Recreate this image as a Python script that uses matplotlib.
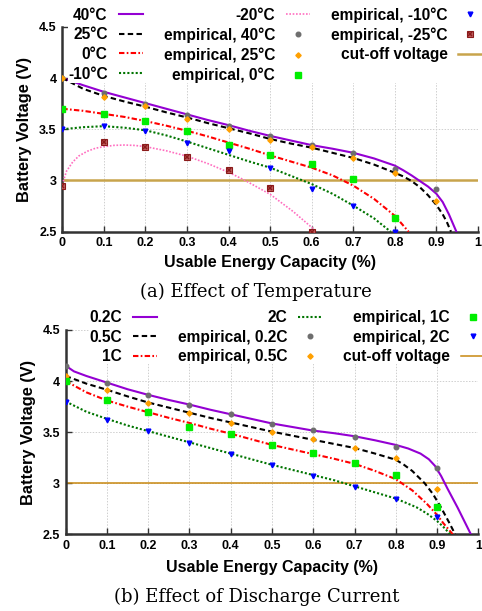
import matplotlib
matplotlib.use("Agg")
import matplotlib.pyplot as plt
from matplotlib.legend_handler import HandlerTuple

plt.rcParams["font.family"] = ["Liberation Sans", "DejaVu Sans"]
plt.rcParams["font.weight"] = "bold"

FIG_W, FIG_H = 482, 611

# ---- shared axes data ----
CAP_TICKS = [0, 0.1, 0.2, 0.3, 0.4, 0.5, 0.6, 0.7, 0.8, 0.9, 1.0]
CAP_LABELS = ["0", "0.1", "0.2", "0.3", "0.4", "0.5", "0.6", "0.7", "0.8", "0.9", "1"]
VOLT_TICKS = [2.5, 3.0, 3.5, 4.0, 4.5]
VOLT_LABELS = ["2.5", "3", "3.5", "4", "4.5"]
CUTOFF = 3.0
EMP_X = [0.0, 0.1, 0.2, 0.3, 0.4, 0.5, 0.6, 0.7, 0.8, 0.9]

# ---- (a) temperature: model curves ----
T40_X = [0, 0.05, 0.1, 0.15, 0.2, 0.25, 0.3, 0.35, 0.4, 0.45, 0.5, 0.55, 0.6, 0.65,
         0.7, 0.75, 0.8, 0.82, 0.84, 0.86, 0.88, 0.9, 0.915, 0.93, 0.948]
T40_V = [4.00, 3.93, 3.865, 3.81, 3.755, 3.70, 3.645, 3.59, 3.54, 3.485, 3.435, 3.39,
         3.345, 3.31, 3.27, 3.215, 3.145, 3.10, 3.05, 2.995, 2.94, 2.87, 2.79, 2.67, 2.50]
T25_X = [0, 0.05, 0.1, 0.15, 0.2, 0.25, 0.3, 0.35, 0.4, 0.45, 0.5, 0.55, 0.6, 0.65,
         0.7, 0.75, 0.8, 0.82, 0.84, 0.86, 0.88, 0.9, 0.915, 0.925, 0.935]
T25_V = [4.00, 3.895, 3.825, 3.77, 3.72, 3.665, 3.615, 3.56, 3.51, 3.46, 3.405, 3.36,
         3.32, 3.27, 3.22, 3.155, 3.075, 3.04, 2.995, 2.935, 2.855, 2.76, 2.67, 2.595, 2.50]
T0_X = [0, 0.05, 0.1, 0.15, 0.2, 0.25, 0.3, 0.35, 0.4, 0.45, 0.5, 0.55, 0.6, 0.65,
        0.7, 0.75, 0.8, 0.833]
T0_V = [3.70, 3.68, 3.65, 3.62, 3.58, 3.535, 3.485, 3.43, 3.37, 3.31, 3.245, 3.185,
        3.125, 3.05, 2.95, 2.82, 2.655, 2.50]
TM10_X = [0, 0.05, 0.1, 0.15, 0.2, 0.25, 0.3, 0.35, 0.4, 0.45, 0.5, 0.55, 0.6, 0.65,
          0.7, 0.75, 0.79]
TM10_V = [3.50, 3.52, 3.53, 3.515, 3.49, 3.44, 3.38, 3.315, 3.25, 3.185, 3.125, 3.045,
          2.965, 2.87, 2.755, 2.63, 2.50]
TM20_X = [0, 0.01, 0.025, 0.04, 0.06, 0.08, 0.1, 0.125, 0.15, 0.175, 0.2, 0.25, 0.3,
          0.35, 0.4, 0.44, 0.5, 0.556, 0.612]
TM20_V = [2.96, 3.09, 3.18, 3.24, 3.285, 3.315, 3.33, 3.343, 3.346, 3.342, 3.33, 3.29,
          3.237, 3.165, 3.08, 3.0, 2.865, 2.695, 2.50]

# ---- (a) temperature: empirical points ----
E40_V = [4.00, 3.857, 3.746, 3.639, 3.532, 3.434, 3.346, 3.271, 3.109, 2.914]
E25_V = [3.997, 3.815, 3.727, 3.600, 3.506, 3.395, 3.324, 3.222, 3.070, 2.80]
E0_V = [3.695, 3.646, 3.578, 3.480, 3.343, 3.249, 3.161, 3.014, 2.631]
EM10_V = [3.50, 3.535, 3.483, 3.369, 3.288, 3.125, 2.914, 2.754, 2.50]
EM25_V = [2.946, 3.373, 3.330, 3.232, 3.102, 2.924, 2.50]

# ---- (b) discharge current: model curves ----
C02_X = [0, 0.02, 0.05, 0.1, 0.15, 0.2, 0.25, 0.3, 0.35, 0.4, 0.45, 0.5, 0.55, 0.6,
         0.65, 0.7, 0.75, 0.8, 0.83, 0.86, 0.88, 0.895, 0.91, 0.925, 0.95, 0.982]
C02_V = [4.15, 4.095, 4.05, 3.985, 3.92, 3.865, 3.815, 3.77, 3.72, 3.675, 3.63, 3.585,
         3.55, 3.515, 3.49, 3.46, 3.42, 3.375, 3.34, 3.29, 3.235, 3.17, 3.07, 2.95,
         2.76, 2.50]
C05_X = [0, 0.05, 0.1, 0.15, 0.2, 0.25, 0.3, 0.35, 0.4, 0.45, 0.5, 0.55, 0.6, 0.65,
         0.7, 0.75, 0.8, 0.82, 0.84, 0.87, 0.89, 0.91, 0.93, 0.944]
C05_V = [4.05, 3.975, 3.915, 3.85, 3.79, 3.74, 3.69, 3.64, 3.595, 3.55, 3.505, 3.465,
         3.425, 3.385, 3.345, 3.29, 3.23, 3.18, 3.12, 3.0, 2.895, 2.76, 2.61, 2.50]
C1_X = [0, 0.05, 0.1, 0.15, 0.2, 0.25, 0.3, 0.35, 0.4, 0.45, 0.5, 0.55, 0.6, 0.65,
        0.7, 0.75, 0.8, 0.84, 0.875, 0.9, 0.915, 0.938]
C1_V = [4.0, 3.89, 3.81, 3.75, 3.695, 3.64, 3.59, 3.535, 3.485, 3.43, 3.375, 3.33,
        3.285, 3.24, 3.19, 3.12, 3.04, 2.93, 2.80, 2.69, 2.61, 2.50]
C2_X = [0, 0.05, 0.1, 0.15, 0.2, 0.25, 0.3, 0.35, 0.4, 0.45, 0.5, 0.55, 0.6, 0.65,
        0.7, 0.75, 0.8, 0.85, 0.875, 0.9, 0.915, 0.932]
C2_V = [3.80, 3.70, 3.63, 3.565, 3.51, 3.455, 3.40, 3.345, 3.29, 3.235, 3.18, 3.13,
        3.08, 3.03, 2.97, 2.91, 2.85, 2.765, 2.705, 2.63, 2.574, 2.50]

# ---- (b) discharge current: empirical points ----
E02_V = [4.150, 3.984, 3.861, 3.766, 3.674, 3.583, 3.521, 3.449, 3.358, 3.149]
E05_V = [4.05, 3.913, 3.788, 3.687, 3.593, 3.501, 3.43, 3.348, 3.244, 2.94]
E1_V = [4.0, 3.81, 3.694, 3.547, 3.479, 3.371, 3.293, 3.195, 3.08, 2.764]
E2_V = [3.80, 3.622, 3.508, 3.397, 3.286, 3.175, 3.074, 2.966, 2.849, 2.667]

# ---- styles ----
PURPLE = "#9400d3"
RED = "#ff0000"
GREEN = "#007400"
PINK = "#ff6ec0"
GRAY_PT = "#6e6e6e"
ORANGE_PT = "#ffa000"
LIME_PT = "#00ee00"
BLUE_PT = "#0000ff"
DARKRED_PT = "#8b1a1a"
AXIS_COLOR = "#333333"
LW = 1.5
CAPTION_FONT = {"family": "DejaVu Serif", "fontweight": "normal", "fontsize": 13}


def px_rect(x0, y0, x1, y1):
    """Axes rect from pixel corners (top-left origin)."""
    return [x0 / FIG_W, 1 - y1 / FIG_H, (x1 - x0) / FIG_W, (y1 - y0) / FIG_H]


def style_axes(ax, xlabel_y):
    ax.set_xlim(0, 1)
    ax.set_ylim(2.5, 4.5)
    ax.set_xticks(CAP_TICKS)
    ax.set_xticklabels(CAP_LABELS)
    ax.set_yticks(VOLT_TICKS)
    ax.set_yticklabels(VOLT_LABELS)
    ax.tick_params(direction="in", length=4, width=1, color=AXIS_COLOR,
                   labelsize=9, pad=4)
    for side in ("top", "right"):
        ax.spines[side].set_visible(False)
    for side in ("left", "bottom"):
        ax.spines[side].set_color(AXIS_COLOR)
        ax.spines[side].set_linewidth(1.8)
    ax.grid(True, color="#cfcfcf", lw=0.7, ls=(0, (1.5, 1.5)))
    ax.set_axisbelow(True)
    ax.set_xlabel("Usable Energy Capacity (%)", fontsize=11.5, fontweight="bold")
    ax.set_ylabel("Battery Voltage (V)", fontsize=11.8, fontweight="bold")
    ax.xaxis.set_label_coords(0.5, xlabel_y)
    ax.yaxis.set_label_coords(-0.072, 0.5)


def add_key(ax, handles, labels, x_px, y_px):
    leg = ax.legend(handles, labels, ncols=3, markerfirst=False, numpoints=1,
                    loc="upper left",
                    bbox_to_anchor=(x_px / FIG_W, 1 - y_px / FIG_H),
                    bbox_transform=ax.figure.transFigure,
                    prop={"weight": "bold", "size": 11.2},
                    handlelength=1.55, handletextpad=0.7, columnspacing=1.35,
                    labelspacing=0.3, borderpad=0.0, borderaxespad=0.0,
                    frameon=True, fancybox=False, framealpha=1,
                    facecolor="white", edgecolor="none",
                    handler_map={tuple: HandlerTuple(ndivide=1)})
    leg.set_zorder(10)
    return leg


fig = plt.figure(figsize=(FIG_W / 100, FIG_H / 100), dpi=100)

# ===================== (a) Effect of Temperature =====================
ax1 = fig.add_axes(px_rect(62.3, 26.8, 478, 231.7))
style_axes(ax1, -0.112)

cut1, = ax1.plot([0, 1], [CUTOFF, CUTOFF], color="#c8a44c", lw=1.8, zorder=2)
l40, = ax1.plot(T40_X, T40_V, color=PURPLE, lw=LW, zorder=3)
l25, = ax1.plot(T25_X, T25_V, color="black", lw=LW, dashes=(2.6, 1.6), zorder=3)
l0, = ax1.plot(T0_X, T0_V, color=RED, lw=LW, dashes=(2.6, 1.1, 0.8, 1.1), zorder=3)
lm10, = ax1.plot(TM10_X, TM10_V, color=GREEN, lw=LW, dashes=(1, 1), zorder=3)
lm20, = ax1.plot(TM20_X, TM20_V, color=PINK, lw=1.2, dashes=(1, 1), zorder=3)

p40, = ax1.plot(EMP_X, E40_V, ls="none", marker="o", ms=3.3, color=GRAY_PT, zorder=4)
p25, = ax1.plot(EMP_X, E25_V, ls="none", marker="D", ms=2.7, color=ORANGE_PT, zorder=4)
p0, = ax1.plot(EMP_X[:len(E0_V)], E0_V, ls="none", marker="s", ms=4.3, color=LIME_PT, zorder=4)
pm10, = ax1.plot(EMP_X[:len(EM10_V)], EM10_V, ls="none", marker="v", ms=3.4, color=BLUE_PT, zorder=4)
pm25a, = ax1.plot(EMP_X[:len(EM25_V)], EM25_V, ls="none", marker="s", ms=3.8,
                  mfc="#c06060", mec=DARKRED_PT, mew=0.8, zorder=4)
pm25b, = ax1.plot(EMP_X[:len(EM25_V)], EM25_V, ls="none", marker="x", ms=3.4,
                  color=DARKRED_PT, mew=1.1, zorder=5)

add_key(ax1,
        [l40, l25, l0, lm10, lm20, p40, p25, p0, pm10, (pm25a, pm25b), cut1],
        ["40°C", "25°C", "0°C", "-10°C", "-20°C", "empirical, 40°C",
         "empirical, 25°C", "empirical, 0°C", "empirical, -10°C",
         "empirical, -25°C", "cut-off voltage"],
        68, 7)

fig.text(256 / FIG_W, 1 - 292 / FIG_H, "(a) Effect of Temperature",
         ha="center", va="center", **CAPTION_FONT)

# ===================== (b) Effect of Discharge Current =====================
ax2 = fig.add_axes(px_rect(65.7, 330, 478.3, 534.3))
style_axes(ax2, -0.124)

cut2, = ax2.plot([0, 1], [CUTOFF, CUTOFF], color="#c8870f", lw=1.1, zorder=2)
c02, = ax2.plot(C02_X, C02_V, color=PURPLE, lw=LW, zorder=3)
c05, = ax2.plot(C05_X, C05_V, color="black", lw=LW, dashes=(2.6, 1.6), zorder=3)
c1, = ax2.plot(C1_X, C1_V, color=RED, lw=LW, dashes=(2.6, 1.1, 0.8, 1.1), zorder=3)
c2, = ax2.plot(C2_X, C2_V, color=GREEN, lw=LW, dashes=(1, 1), zorder=3)

q02, = ax2.plot(EMP_X, E02_V, ls="none", marker="o", ms=3.3, color=GRAY_PT, zorder=4)
q05, = ax2.plot(EMP_X, E05_V, ls="none", marker="D", ms=2.7, color=ORANGE_PT, zorder=4)
q1, = ax2.plot(EMP_X, E1_V, ls="none", marker="s", ms=4.3, color=LIME_PT, zorder=4)
q2, = ax2.plot(EMP_X, E2_V, ls="none", marker="v", ms=3.4, color=BLUE_PT, zorder=4)

add_key(ax2,
        [c02, c05, c1, c2, q02, q05, q1, q2, cut2],
        ["0.2C", "0.5C", "1C", "2C", "empirical, 0.2C", "empirical, 0.5C",
         "empirical, 1C", "empirical, 2C", "cut-off voltage"],
        89, 310)

fig.text(257 / FIG_W, 1 - 597 / FIG_H, "(b) Effect of Discharge Current",
         ha="center", va="center", **CAPTION_FONT)

fig.savefig("out.png", dpi=100)
plt.close(fig)
